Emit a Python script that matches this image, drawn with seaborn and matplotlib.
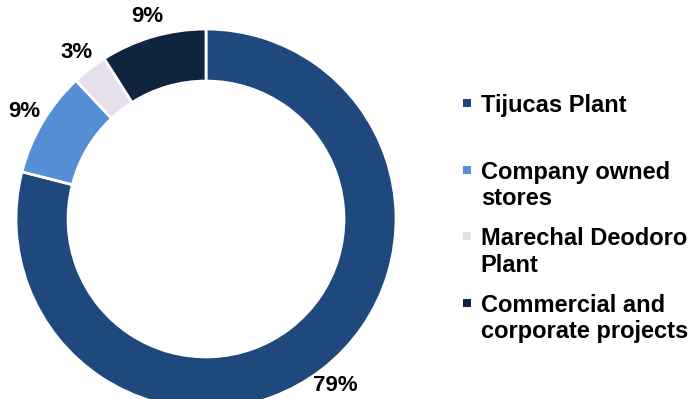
import matplotlib
matplotlib.use("Agg")
import matplotlib.pyplot as plt
from matplotlib.lines import Line2D
import seaborn as sns

categories = ["Tijucas Plant", "Company owned\nstores", "Marechal Deodoro\nPlant", "Commercial and\ncorporate projects"]
shares = [79, 9, 3, 9]
colors = ["#1f497d", "#558ed5", "#e6e0ec", "#10243f"]

sns.set_style("white")
plt.rcParams["font.family"] = ["Liberation Sans", "DejaVu Sans"]
plt.rcParams["font.weight"] = "bold"
plt.rcParams["text.color"] = "black"

fig = plt.figure(figsize=(6.92, 3.99), dpi=100)
ax = fig.add_axes([16 / 692, -10 / 399, 380 / 692, 380 / 399])

wedges, texts, autotexts = ax.pie(
    shares,
    colors=colors,
    startangle=90,
    counterclock=False,
    radius=1.0,
    autopct=lambda p: f"{p:.0f}%",
    pctdistance=1.11,
    wedgeprops=dict(width=0.274, edgecolor="white", linewidth=2.0),
    textprops=dict(fontsize=16, fontweight="bold", color="black"),
)
ax.set_xlim(-1, 1)
ax.set_ylim(-1, 1)
ax.set_aspect("equal")
ax.axis("off")

handles = [Line2D([], [], marker="s", linestyle="none", markersize=5.5,
                  markerfacecolor=w.get_facecolor(), markeredgewidth=0)
           for w in wedges]
labels = [categories[0] + "\n "] + categories[1:]
leg = fig.legend(
    handles, labels,
    loc="center left",
    bbox_to_anchor=(463 / 692, 0.452),
    frameon=False,
    prop=dict(size=17, weight="bold"),
    labelcolor="black",
    handlelength=0.35,
    handleheight=1.0,
    handletextpad=0.4,
    labelspacing=0.72,
    borderpad=0,
    borderaxespad=0,
)
for col in leg._legend_handle_box.get_children():
    for hp in col.get_children():
        hp.align = "top"

fig.savefig("out.png", dpi=100)
